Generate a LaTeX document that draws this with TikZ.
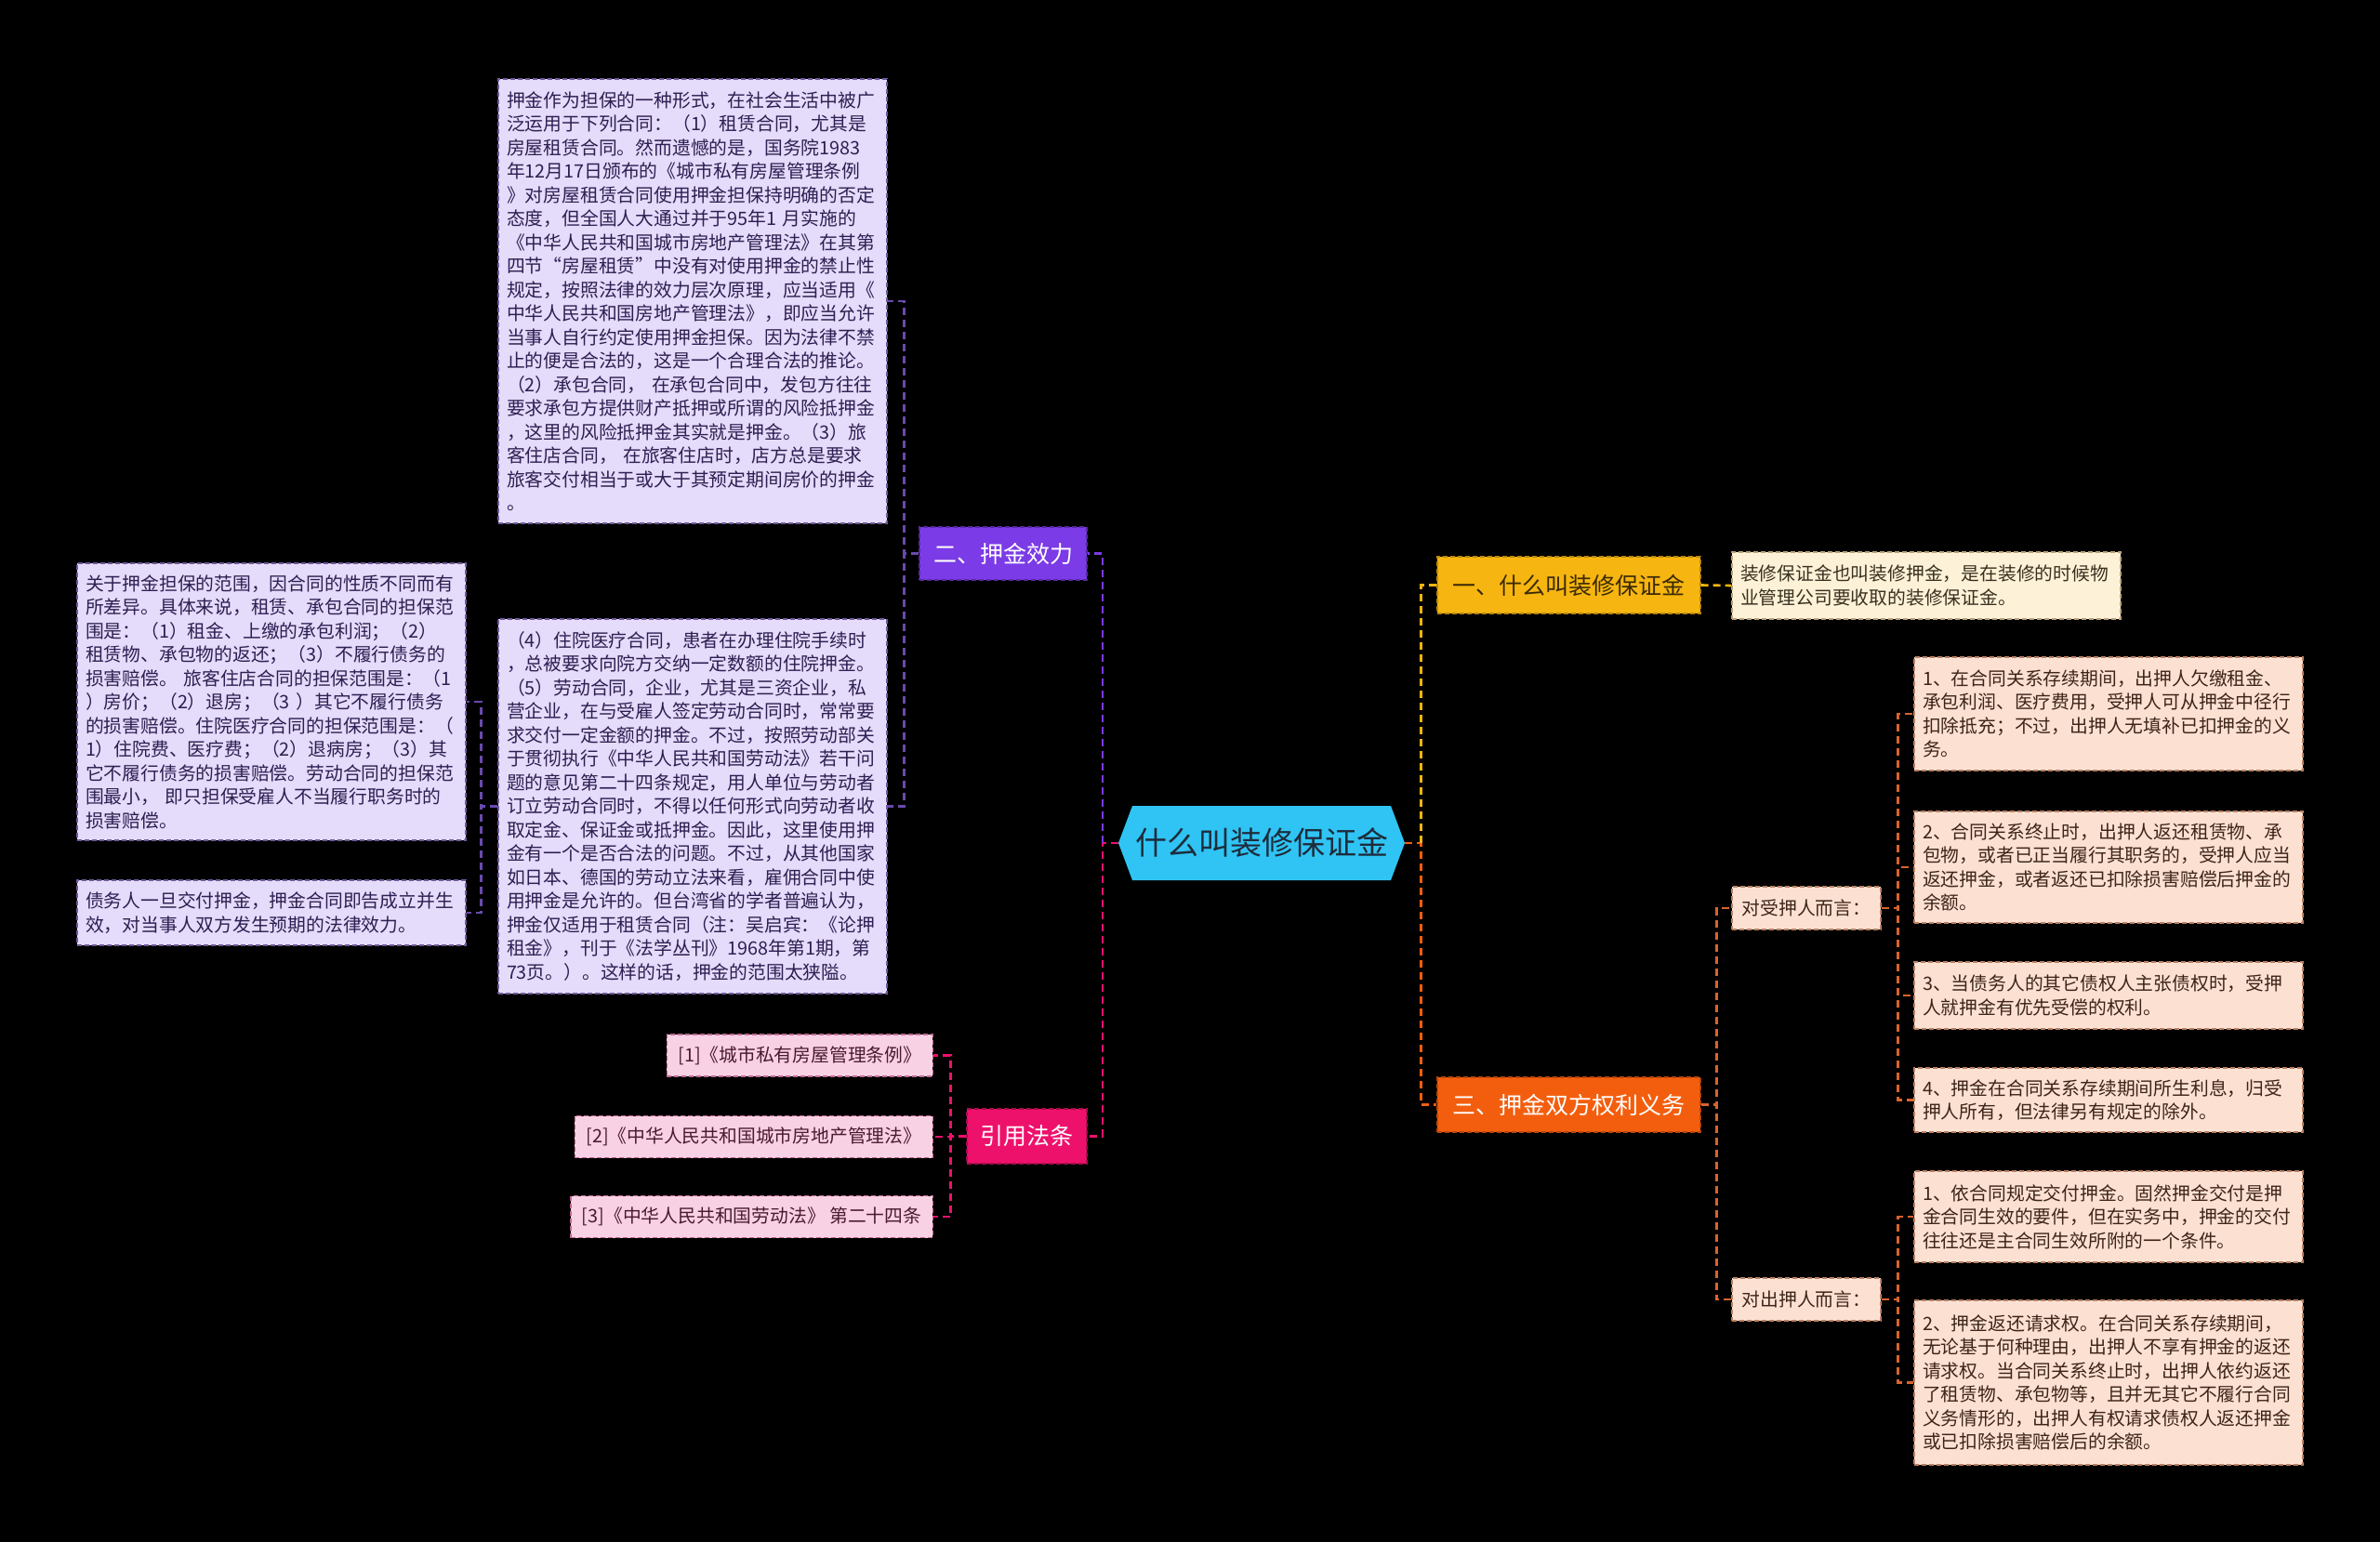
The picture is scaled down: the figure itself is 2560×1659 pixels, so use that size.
\documentclass[tikz,border=0pt]{standalone}
\usepackage{fontspec}
\setmainfont{Noto Sans CJK SC}
\usetikzlibrary{calc}
\definecolor{cyanN}{HTML}{2FC4F4}
\definecolor{cyanT}{HTML}{1E2C3C}
\definecolor{purpleN}{HTML}{7B3BE6}
\definecolor{purpleD}{HTML}{6A4AAE}
\definecolor{pinkN}{HTML}{EE116C}
\definecolor{goldN}{HTML}{F6B510}
\definecolor{goldT}{HTML}{3A2A05}
\definecolor{orangeN}{HTML}{F35E0E}
\definecolor{orangeD}{HTML}{D8642C}
\definecolor{lav}{HTML}{E5DBFA}
\definecolor{lavB}{HTML}{6E5A9C}
\definecolor{lavT}{HTML}{2D1F52}
\definecolor{peach}{HTML}{FCE1D3}
\definecolor{peachB}{HTML}{B98062}
\definecolor{peachT}{HTML}{3E2418}
\definecolor{cream}{HTML}{FDF2D7}
\definecolor{creamB}{HTML}{B8A27A}
\definecolor{creamT}{HTML}{3A3020}
\definecolor{pinkL}{HTML}{F9D1E4}
\definecolor{pinkB}{HTML}{C06A90}
\definecolor{pinkT}{HTML}{4A1A32}
\begin{document}
\begin{tikzpicture}[x=1pt,y=-1pt,
  conn/.style={line width=2.6pt, dash pattern=on 8pt off 5pt},
  tbase/.style={rectangle, draw, line width=1.3pt, dash pattern=on 5pt off 3pt,
    inner xsep=9pt, inner ysep=0pt, font={\fontsize{19.8}{25.5}\selectfont}},
  tbox/.style={tbase, text width=400pt, align=left},
  lavbox/.style={tbox, fill=lav, draw=lavB, text=lavT},
  peachbox/.style={tbox, fill=peach, draw=peachB, text=peachT},
  creambox/.style={tbox, fill=cream, draw=creamB, text=creamT},
  citebox/.style={tbase, inner xsep=12pt, minimum height=45pt, fill=pinkL, draw=pinkB, text=pinkT},
  subbox/.style={tbase, minimum width=160pt, minimum height=46pt, align=left, fill=peach, draw=peachB, text=peachT},
  branch/.style={rectangle, draw, line width=1.4pt, dash pattern=on 5pt off 3pt,
    inner sep=0pt, font={\fontsize{25}{30}\selectfont}}
]
\fill[black] (0,0) rectangle (2560,1659);
\useasboundingbox (0,0) rectangle (2560,1659);

% central hexagon
\fill[cyanN] (1218,867) -- (1496,867) -- (1511,907) -- (1496,947) -- (1218,947) -- (1203,907) -- cycle;
\node[minimum width=308pt, minimum height=80pt, inner sep=0pt, text=cyanT,
  font={\fontsize{34}{40}\selectfont}] (c) at (1357,907) {什么叫装修保证金};

% branches
\node[branch, fill=purpleN, draw=purpleN!70!black, text=white, minimum width=180pt, minimum height=57pt] (er) at (1079,595.5) {二、押金效力};
\node[branch, fill=pinkN, draw=pinkN!70!black, text=white, minimum width=129pt, minimum height=59pt] (yy) at (1104.5,1222.5) {引用法条};
\node[branch, fill=goldN, draw=goldN!75!black, text=goldT, minimum width=283pt, minimum height=61pt] (yi) at (1687.5,629.5) {一、什么叫装修保证金};
\node[branch, fill=orangeN, draw=orangeN!75!black, text=white, minimum width=283pt, minimum height=59pt] (san) at (1687.5,1188.5) {三、押金双方权利义务};

% left texts
\node[lavbox, minimum height=478pt] (t1) at (745,324) {押金作为担保的一种形式，在社会生活中被广\\
泛运用于下列合同：（1）租赁合同，尤其是\\
房屋租赁合同。然而遗憾的是，国务院1983\\
年12月17日颁布的《城市私有房屋管理条例\\
》对房屋租赁合同使用押金担保持明确的否定\\
态度，但全国人大通过并于95年1 月实施的\\
《中华人民共和国城市房地产管理法》在其第\\
四节“房屋租赁”中没有对使用押金的禁止性\\
规定，按照法律的效力层次原理，应当适用《\\
中华人民共和国房地产管理法》，即应当允许\\
当事人自行约定使用押金担保。因为法律不禁\\
止的便是合法的，这是一个合理合法的推论。\\
（2）承包合同， 在承包合同中，发包方往往\\
要求承包方提供财产抵押或所谓的风险抵押金\\
，这里的风险抵押金其实就是押金。（3）旅\\
客住店合同， 在旅客住店时，店方总是要求\\
旅客交付相当于或大于其预定期间房价的押金\\
。};

\node[lavbox, minimum height=403pt] (t2) at (745,867.5) {（4）住院医疗合同，患者在办理住院手续时\\
，总被要求向院方交纳一定数额的住院押金。\\
（5）劳动合同，企业，尤其是三资企业，私\\
营企业，在与受雇人签定劳动合同时，常常要\\
求交付一定金额的押金。不过，按照劳动部关\\
于贯彻执行《中华人民共和国劳动法》若干问\\
题的意见第二十四条规定，用人单位与劳动者\\
订立劳动合同时，不得以任何形式向劳动者收\\
取定金、保证金或抵押金。因此，这里使用押\\
金有一个是否合法的问题。不过，从其他国家\\
如日本、德国的劳动立法来看，雇佣合同中使\\
用押金是允许的。但台湾省的学者普遍认为，\\
押金仅适用于租赁合同（注：吴启宾：《论押\\
租金》，刊于《法学丛刊》1968年第1期，第\\
73页。）。这样的话，押金的范围太狭隘。};

\node[lavbox, minimum height=298pt] (l1) at (292,755) {关于押金担保的范围，因合同的性质不同而有\\
所差异。具体来说，租赁、承包合同的担保范\\
围是：（1）租金、上缴的承包利润；（2）\\
租赁物、承包物的返还；（3）不履行债务的\\
损害赔偿。 旅客住店合同的担保范围是：（1\\
）房价；（2）退房；（3 ）其它不履行债务\\
的损害赔偿。住院医疗合同的担保范围是：（\\
1）住院费、医疗费；（2）退病房；（3）其\\
它不履行债务的损害赔偿。劳动合同的担保范\\
围最小， 即只担保受雇人不当履行职务时的\\
损害赔偿。};

\node[lavbox, minimum height=70pt] (l2) at (292,982) {债务人一旦交付押金，押金合同即告成立并生\\
效，对当事人双方发生预期的法律效力。};

% citations
\node[citebox, anchor=east] (c1) at (1004,1135.5) {[1]《城市私有房屋管理条例》};
\node[citebox, anchor=east] (c2) at (1004,1223) {[2]《中华人民共和国城市房地产管理法》};
\node[citebox, anchor=east] (c3) at (1004,1309) {[3]《中华人民共和国劳动法》 第二十四条};

% right side
\node[creambox, minimum height=72pt] (yb) at (2072,630) {装修保证金也叫装修押金，是在装修的时候物\\
业管理公司要收取的装修保证金。};

\node[subbox] (ds) at (1943,977) {对受押人而言：};
\node[subbox] (dc) at (1943,1398) {对出押人而言：};

\node[peachbox, minimum height=122pt] (r1) at (2268,768) {1、在合同关系存续期间，出押人欠缴租金、\\
承包利润、医疗费用，受押人可从押金中径行\\
扣除抵充；不过，出押人无填补已扣押金的义\\
务。};
\node[peachbox, minimum height=120pt] (r2) at (2268,933) {2、合同关系终止时，出押人返还租赁物、承\\
包物，或者已正当履行其职务的，受押人应当\\
返还押金，或者返还已扣除损害赔偿后押金的\\
余额。};
\node[peachbox, minimum height=72pt] (r3) at (2268,1071) {3、当债务人的其它债权人主张债权时，受押\\
人就押金有优先受偿的权利。};
\node[peachbox, minimum height=69pt] (r4) at (2268,1183.5) {4、押金在合同关系存续期间所生利息，归受\\
押人所有，但法律另有规定的除外。};
\node[peachbox, minimum height=98pt] (r5) at (2268,1309) {1、依合同规定交付押金。固然押金交付是押\\
金合同生效的要件，但在实务中，押金的交付\\
往往还是主合同生效所附的一个条件。};
\node[peachbox, minimum height=177pt] (r6) at (2268,1487.5) {2、押金返还请求权。在合同关系存续期间，\\
无论基于何种理由，出押人不享有押金的返还\\
请求权。当合同关系终止时，出押人依约返还\\
了租赁物、承包物等，且并无其它不履行合同\\
义务情形的，出押人有权请求债权人返还押金\\
或已扣除损害赔偿后的余额。};

% connectors left
\draw[conn, pinkN] (c.west) -- ++(-17,0) |- (yy.east);
\draw[conn, purpleN] ($(c.west)+(-17,0)$) |- (er.east);
\draw[conn, purpleD] (er.west) -- ++(-16,0) |- (t1.east);
\draw[conn, purpleD] (er.west) -- ++(-16,0) |- (t2.east);
\draw[conn, purpleD] (t2.west) -- ++(-18,0) |- (l1.east);
\draw[conn, purpleD] (t2.west) -- ++(-18,0) |- (l2.east);
\draw[conn, pinkN] (yy.west) -- ++(-17,0) |- (c1.east);
\draw[conn, pinkN] (yy.west) -- ++(-17,0) |- (c2.east);
\draw[conn, pinkN] (yy.west) -- ++(-17,0) |- (c3.east);

% connectors right
\draw[conn, orangeN] (c.east) -- ++(17,0) |- (san.west);
\draw[conn, goldN] ($(c.east)+(17,0)$) |- (yi.west);
\draw[conn, goldN] (yi.east) -- (yb.west);
\draw[conn, orangeD] (san.east) -- ++(17,0) |- (ds.west);
\draw[conn, orangeD] (san.east) -- ++(17,0) |- (dc.west);
\draw[conn, orangeD] (ds.east) -- ++(18,0) |- (r1.west);
\draw[conn, orangeD] (ds.east) -- ++(18,0) |- (r2.west);
\draw[conn, orangeD] (ds.east) -- ++(18,0) |- (r3.west);
\draw[conn, orangeD] (ds.east) -- ++(18,0) |- (r4.west);
\draw[conn, orangeD] (dc.east) -- ++(18,0) |- (r5.west);
\draw[conn, orangeD] (dc.east) -- ++(18,0) |- (r6.west);
\end{tikzpicture}
\end{document}
